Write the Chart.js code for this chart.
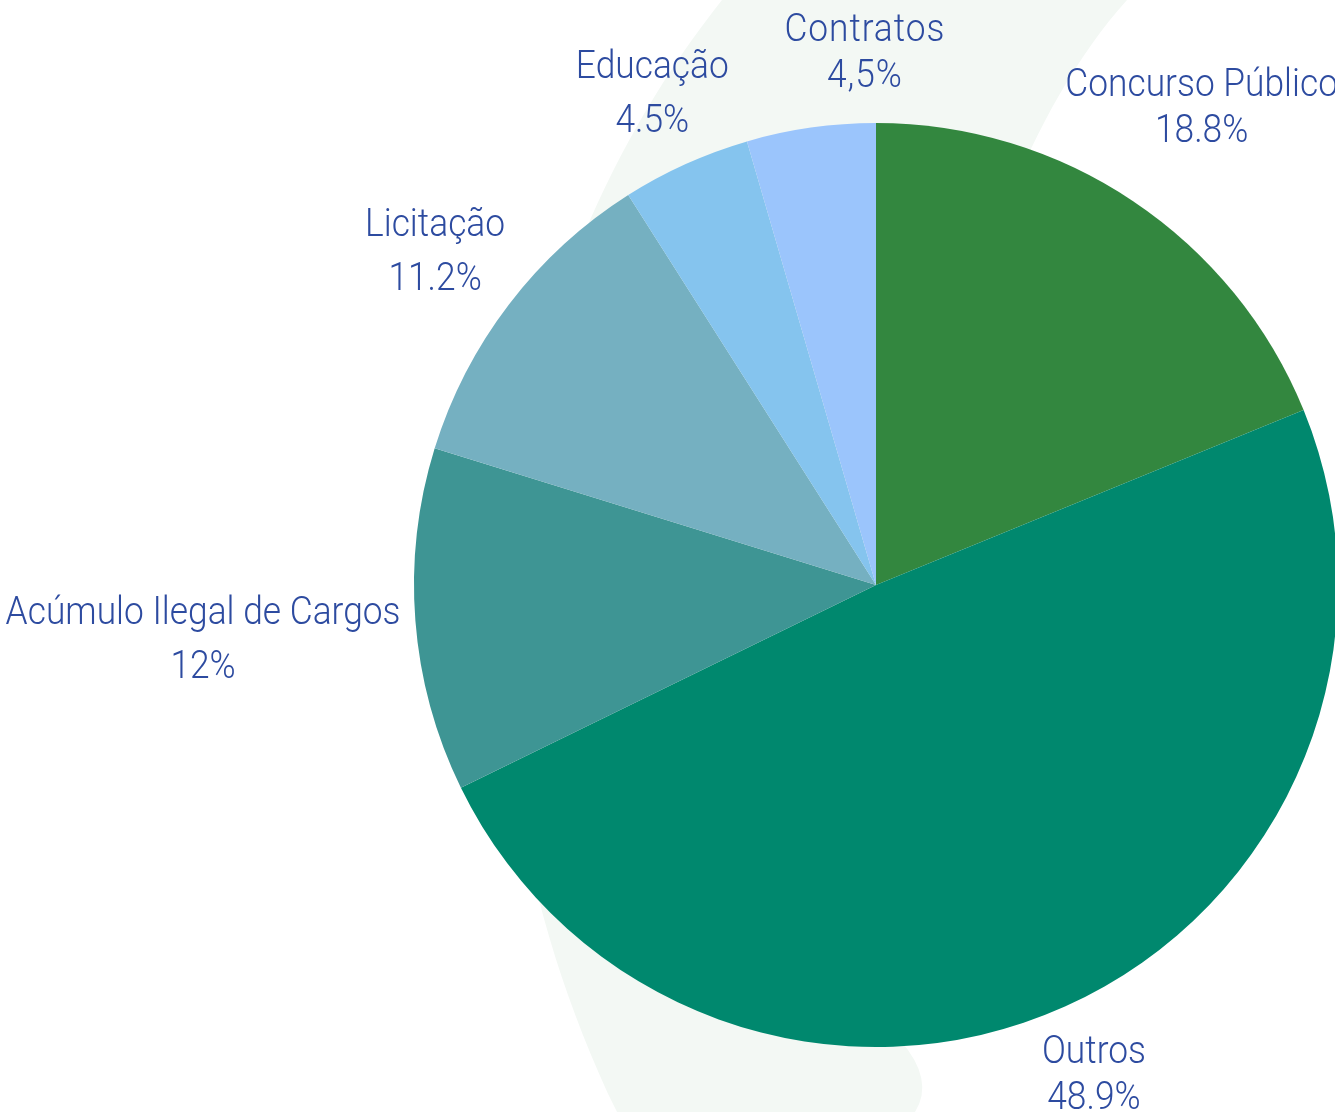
<!DOCTYPE html>
<html>
<head>
<meta charset="utf-8">
<script src="https://cdn.jsdelivr.net/npm/chart.js@4"></script>
<style>
  html, body { margin: 0; padding: 0; background: #fff; overflow: hidden; }
  #wrap { width: 1345px; height: 1112px; position: relative; }
</style>
</head>
<body>
<div id="wrap"><canvas id="myChart"></canvas></div>
<script>
const categories = ['Concurso Público', 'Outros', 'Acúmulo Ilegal de Cargos', 'Licitação', 'Educação', 'Contratos'];
const values = [18.8, 48.9, 12, 11.2, 4.5, 4.5];
const valueLabels = ['18.8%', '48.9%', '12%', '11.2%', '4.5%', '4,5%'];
const colors = ['#33873f', '#00886e', '#3e9594', '#75b0c1', '#85c4ee', '#9bc5fc'];

const textColor = '#2d4ba0';

// light green swoosh behind the pie
const bandPlugin = {
    id: 'band',
    beforeDatasetsDraw(chart) {
        const ctx = chart.ctx;
        ctx.save();
        ctx.fillStyle = '#f3f8f4';
        ctx.beginPath();
        ctx.moveTo(722, 0);
        ctx.lineTo(1127, 0);
        ctx.bezierCurveTo(930, 220, 880, 700, 900, 1040);
        ctx.quadraticCurveTo(935, 1080, 915, 1112);
        ctx.lineTo(617, 1112);
        ctx.bezierCurveTo(420, 700, 500, 280, 722, 0);
        ctx.closePath();
        ctx.fill();
        ctx.restore();
    }
};

// two-line labels outside each slice
const labelPlugin = {
    id: 'outLabels',
    afterDatasetsDraw(chart) {
        const ctx = chart.ctx;
        const arcs = chart.getDatasetMeta(0).data;
        const sx = 0.93;
        ctx.save();
        ctx.fillStyle = textColor;
        ctx.textBaseline = 'middle';
        ctx.textAlign = 'center';
        arcs.forEach((arc, i) => {
            const p = arc.getProps(['x', 'y', 'startAngle', 'endAngle', 'outerRadius'], true);
            const mid = (p.startAngle + p.endAngle) / 2;
            const dx = Math.cos(mid), dy = Math.sin(mid);
            const isLast = i === arcs.length - 1;
            ctx.font = '300 38px Roboto';
            ctx.letterSpacing = isLast ? '1px' : '0px';
            const gap = (i === 0 || i === 1 || isLast) ? 46 : 54;
            const w = Math.max(ctx.measureText(categories[i]).width, ctx.measureText(valueLabels[i]).width) * sx;
            const dist = p.outerRadius + 13 + (w / 2) * Math.abs(dx) + 40 * Math.abs(dy);
            let cx = p.x + dx * dist;
            let cy = p.y + dy * dist + 5;
            if (i === 0) cy += 5;
            if (isLast) { cx += 63; cy -= 15; }
            [categories[i], valueLabels[i]].forEach((t, k) => {
                ctx.save();
                ctx.translate(cx, cy + (k === 0 ? -gap / 2 : gap / 2));
                ctx.scale(sx, 1);
                ctx.fillText(t, 0, 0);
                ctx.restore();
            });
        });
        ctx.restore();
    }
};

const data = {
    labels: categories,
    datasets: [{
        data: values,
        backgroundColor: colors,
        borderWidth: 0,
        hoverOffset: 0
    }]
};

const config = {
    type: 'pie',
    data: data,
    options: {
        responsive: true,
        maintainAspectRatio: false,
        animation: false,
        layout: { padding: { left: 414, right: 7, top: 123, bottom: 65 } },
        plugins: {
            legend: { display: false },
            tooltip: { enabled: false }
        }
    },
    plugins: [bandPlugin, labelPlugin]
};

new Chart(document.getElementById('myChart'), config);
</script>
</body>
</html>
